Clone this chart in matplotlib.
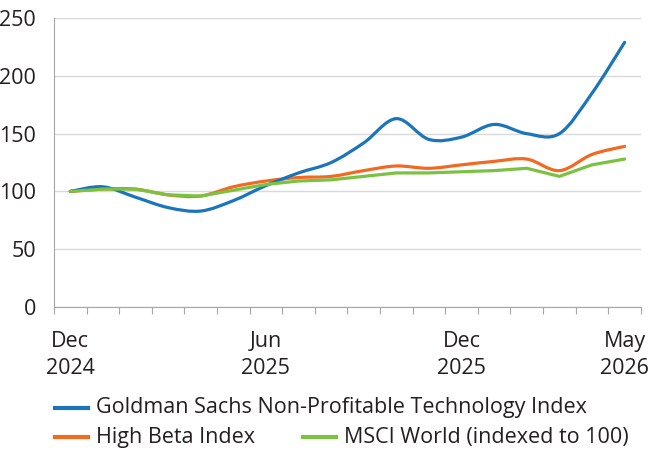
import numpy as np
import matplotlib
matplotlib.use('Agg')
import matplotlib.pyplot as plt
from matplotlib.path import Path
from matplotlib.patches import PathPatch
from matplotlib.lines import Line2D

plt.rcParams['font.family'] = ['Open Sans', 'DejaVu Sans']

months = ['Dec\n2024', 'Jan', 'Feb', 'Mar', 'Apr', 'May', 'Jun\n2025', 'Jul', 'Aug',
          'Sep', 'Oct', 'Nov', 'Dec\n2025', 'Jan', 'Feb', 'Mar', 'Apr', 'May\n2026']
shown_labels = [0, 6, 12, 17]

gs_tech = [100, 104, 95, 86, 83, 92, 105, 116, 125, 142, 163, 145, 147, 158, 150, 150, 185, 229]
high_beta = [100, 102, 102, 97, 96, 104, 109, 112, 113, 118, 122, 120, 123, 126, 128, 118, 132, 139]
msci_world = [100, 102, 102, 97, 96, 101, 106, 109, 110, 113, 116, 116, 117, 118, 120, 113, 123, 128]

blue = '#1b75bb'
orange = '#f26a21'
green = '#7cc242'
text_col = '#231f20'


def smooth_path(x, y, tension=1/6):
    # Excel-style smoothed line: cubic bezier through the data points
    pts = np.column_stack([x, y]).astype(float)
    verts = [pts[0]]
    codes = [Path.MOVETO]
    n = len(pts)
    for i in range(n - 1):
        p0 = pts[max(i - 1, 0)]
        p1 = pts[i]
        p2 = pts[i + 1]
        p3 = pts[min(i + 2, n - 1)]
        c1 = p1 + (p2 - p0) * tension
        c2 = p2 - (p3 - p1) * tension
        verts += [c1, c2, p2]
        codes += [Path.CURVE4] * 3
    return Path(verts, codes)


fig = plt.figure(figsize=(6.5, 4.54), dpi=100)
ax = fig.add_axes([0.083, 0.324, 0.903, 0.636])

x = np.arange(len(months))
for series, col, smooth in [(msci_world, green, False), (high_beta, orange, True), (gs_tech, blue, True)]:
    if smooth:
        ax.add_patch(PathPatch(smooth_path(x, series), facecolor='none', edgecolor=col,
                               lw=2.3, capstyle='round', joinstyle='round'))
    else:
        ax.plot(x, series, color=col, lw=2.3, solid_capstyle='round', solid_joinstyle='round')

ax.set_xlim(-0.5, len(months) - 0.5)
ax.set_ylim(0, 250)
ax.set_yticks(range(0, 251, 50))
ax.yaxis.grid(True, color='#d9d9d9', lw=1)
ax.set_axisbelow(True)
ax.tick_params(axis='y', length=0, labelsize=15.5, colors=text_col, pad=13)

ax.set_xticks(np.arange(-0.5, len(months), 1.0))
ax.set_xticklabels([])
ax.set_xticks([x[i] for i in shown_labels], minor=True)
ax.set_xticklabels([months[i] for i in shown_labels], minor=True)
ax.tick_params(axis='x', which='major', length=5, color='#a6a6a6', direction='out')
ax.tick_params(axis='x', which='minor', length=0, labelsize=15.5, colors=text_col, pad=17)
for lab in ax.get_xticklabels(minor=True):
    lab.set_linespacing(1.38)

for side in ['top', 'right']:
    ax.spines[side].set_visible(False)
for side in ['left', 'bottom']:
    ax.spines[side].set_color('#a6a6a6')

# legend
legend_items = [
    ('Goldman Sachs Non-Profitable Technology Index', blue, 55, 408),
    ('High Beta Index', orange, 55, 437),
    ('MSCI World (indexed to 100)', green, 303, 437),
]
W, H = 650, 454
for label, col, lx, ly in legend_items:
    fig.add_artist(Line2D([lx / W, (lx + 33) / W], [1 - ly / H, 1 - ly / H],
                          color=col, lw=3, transform=fig.transFigure))
    fig.text((lx + 41) / W, 1 - ly / H, label, fontsize=15.5, color=text_col,
             va='center', ha='left')

fig.savefig('out.png', dpi=100)
